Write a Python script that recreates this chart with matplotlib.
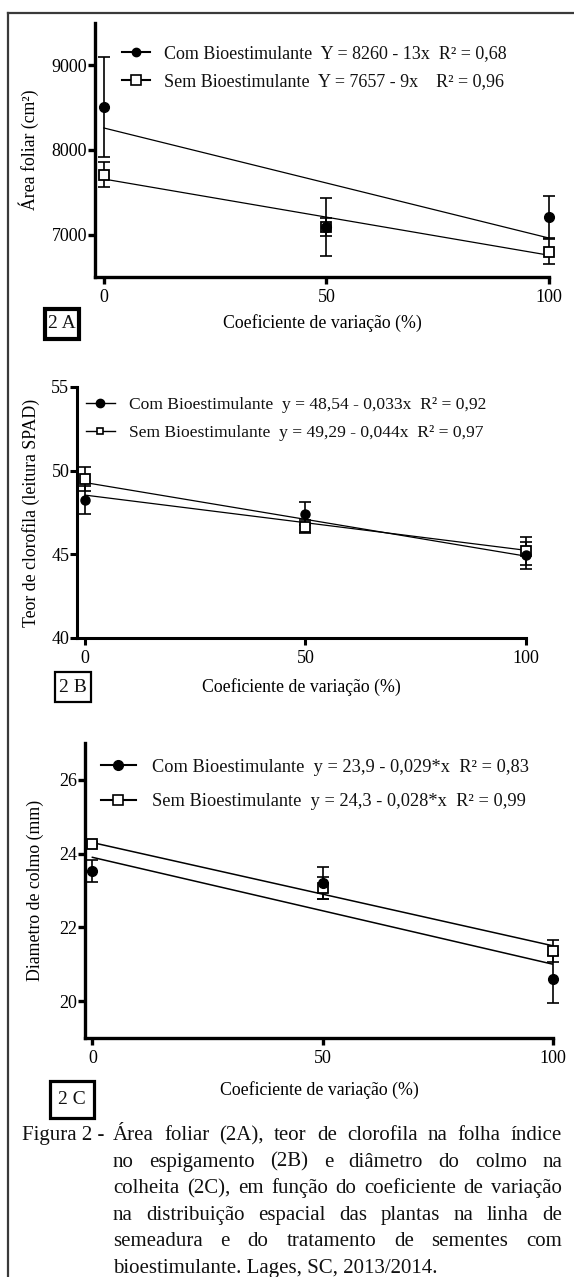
import matplotlib
matplotlib.use("Agg")
import matplotlib.pyplot as plt
import matplotlib.patches as patches
from matplotlib.lines import Line2D
import numpy as np

# ---- data ----
cv = [0, 50, 100]

# 2A - area foliar (cm2)
com_area = [8510, 7090, 7210]
com_area_err = [590, 345, 245]
sem_area = [7710, 7090, 6800]
sem_area_err = [150, 105, 150]
area_fit_com = (8260, -13)
area_fit_sem = (7657, -9)

# 2B - teor de clorofila (SPAD)
com_spad = [48.26, 47.44, 44.94]
com_spad_err = [0.82, 0.66, 0.80]
sem_spad = [49.50, 46.66, 45.20]
sem_spad_err = [0.74, 0.38, 0.84]
spad_fit_com = (48.54, -0.033)
spad_fit_sem = (49.29, -0.044)

# 2C - diametro de colmo (mm)
com_colmo = [23.52, 23.20, 20.60]
com_colmo_err = [0.30, 0.43, 0.66]
sem_colmo = [24.26, 23.06, 21.37]
sem_colmo_err = [0.06, 0.30, 0.30]
colmo_fit_com = (23.9, -0.029)
colmo_fit_sem = (24.3, -0.028)

legend_a = ["Com Bioestimulante  Y = 8260 - 13x  R\u00b2 = 0,68",
            "Sem Bioestimulante  Y = 7657 - 9x    R\u00b2 = 0,96"]
legend_b = ["Com Bioestimulante  y = 48,54 - 0,033x  R\u00b2 = 0,92",
            "Sem Bioestimulante  y = 49,29 - 0,044x  R\u00b2 = 0,97"]
legend_c = ["Com Bioestimulante  y = 23,9 - 0,029*x  R\u00b2 = 0,83",
            "Sem Bioestimulante  y = 24,3 - 0,028*x  R\u00b2 = 0,99"]

caption_head = "Figura 2 -"
caption_lines = [
    "\u00c1rea foliar (2A), teor de clorofila na folha \u00edndice",
    "no espigamento (2B) e di\u00e2metro do colmo na",
    "colheita (2C), em fun\u00e7\u00e3o do coeficiente de varia\u00e7\u00e3o",
    "na distribui\u00e7\u00e3o espacial das plantas na linha de",
    "semeadura e do tratamento de sementes com",
    "bioestimulante. Lages, SC, 2013/2014.",
]

W, H = 574, 1277
plt.rcParams["font.family"] = ["Liberation Serif", "DejaVu Serif"]
plt.rcParams["text.color"] = "#111111"

fig = plt.figure(figsize=(W / 100, H / 100), dpi=100)


def fx(x):
    return x / W


def fy(y):
    return 1 - y / H


def add_ax(left, right, top, bottom):
    return fig.add_axes([fx(left), fy(bottom), (right - left) / W, (bottom - top) / H])


def panel(ax, xlim, ylim, yticks, com, com_err, sem, sem_err, fit_com, fit_sem,
          ylabel, ylab_x, xlab_y, box, leg_labels, leg_pos, leg_style, sizes):
    ms_c, ms_s, fit_lw, spine_lw = sizes
    xs = np.array([0, 100])
    for b0, b1 in (fit_com, fit_sem):
        ax.plot(xs, b0 + b1 * xs, color="k", lw=fit_lw, zorder=2)
    ax.errorbar(cv, sem, yerr=sem_err, fmt="none", ecolor="k", elinewidth=1.2,
                capsize=4, capthick=1.2, zorder=3, clip_on=False)
    ax.errorbar(cv, com, yerr=com_err, fmt="none", ecolor="k", elinewidth=1.2,
                capsize=4, capthick=1.2, zorder=3, clip_on=False)
    ax.plot(cv, sem, "s", ms=ms_s, mfc="white", mec="k", mew=1.3, zorder=4, clip_on=False)
    ax.plot(cv, com, "o", ms=ms_c, color="k", zorder=5, clip_on=False)

    ax.set_xlim(*xlim)
    ax.set_ylim(*ylim)
    ax.set_xticks(cv)
    ax.set_yticks(yticks)
    for s in ("top", "right"):
        ax.spines[s].set_visible(False)
    for s in ("left", "bottom"):
        ax.spines[s].set_linewidth(spine_lw)
    ax.tick_params(axis="both", direction="out", length=5, width=spine_lw,
                   labelsize=13, colors="k")
    ax.tick_params(axis="y", pad=0.5)
    ax.tick_params(axis="x", pad=3.5)
    ax.patch.set_alpha(0)

    bb = ax.get_position()
    ax.set_ylabel(ylabel, fontsize=12.8, va="center")
    ax.yaxis.set_label_coords((fx(ylab_x) - bb.x0) / bb.width, 0.5)
    ax.set_xlabel("Coeficiente de varia\u00e7\u00e3o (%)", fontsize=12.8, va="center")
    ax.xaxis.set_label_coords(0.5, (fy(xlab_y) - bb.y0) / bb.height)

    hl, hpad, lspace, hms_c, hms_s, hlw, leg_fs = leg_style
    h_com = Line2D([], [], color="k", marker="o", ms=hms_c, lw=hlw)
    h_sem = Line2D([], [], color="k", marker="s", ms=hms_s, mfc="white", mec="k", mew=1.2, lw=hlw)
    ax.legend([h_com, h_sem], leg_labels, loc="center left",
              bbox_to_anchor=(fx(leg_pos[0]), fy(leg_pos[1])), bbox_transform=fig.transFigure,
              frameon=False, borderpad=0, borderaxespad=0, numpoints=1,
              handlelength=hl, handletextpad=hpad, labelspacing=lspace, fontsize=leg_fs)

    x0, y0, x1, y1, lw, txt = box
    fig.add_artist(patches.Rectangle((fx(x0), fy(y1)), (x1 - x0) / W, (y1 - y0) / H,
                                     transform=fig.transFigure, fill=False, ec="k", lw=lw))
    fig.text(fx((x0 + x1) / 2), fy((y0 + y1) / 2), txt, ha="center", va="center", fontsize=14)


ax_a = add_ax(95, 549, 23, 277)
panel(ax_a, (-2, 100), (6500, 9500), [7000, 8000, 9000],
      com_area, com_area_err, sem_area, sem_area_err, area_fit_com, area_fit_sem,
      "\u00c1rea foliar (cm\u00b2)", 29, 323, (44.5, 309, 79, 338.5, 3.0, "2 A"),
      legend_a, (122, 68), (1.55, 0.8, 0.6, 6, 6.5, 1.5, 13.0), (7, 7.5, 0.9, 2.4))

ax_b = add_ax(77, 526, 387, 638)
panel(ax_b, (-1.8, 100), (40, 55), [40, 45, 50, 55],
      com_spad, com_spad_err, sem_spad, sem_spad_err, spad_fit_com, spad_fit_sem,
      "Teor de clorofila (leitura SPAD)", 31, 687, (55, 672, 91, 702, 1.6, "2 B"),
      legend_b, (86, 419), (1.65, 0.8, 0.65, 6, 5, 1.0, 12.6), (6.5, 6.5, 0.9, 2.2))

ax_c = add_ax(85, 553, 743, 1038)
panel(ax_c, (-1.6, 100), (19, 27), [20, 22, 24, 26],
      com_colmo, com_colmo_err, sem_colmo, sem_colmo_err, colmo_fit_com, colmo_fit_sem,
      "Diametro de colmo (mm)", 35, 1090, (50, 1081, 94, 1118, 2.3, "2 C"),
      legend_c, (101, 784.5), (1.9, 0.9, 0.95, 7, 7, 1.5, 13.2), (7, 7, 1.1, 2.4))

# page frame
fig.add_artist(Line2D([fx(8), fx(8)], [fy(13), fy(H + 5)], color="#3a3a3a", lw=1.6))
fig.add_artist(Line2D([fx(8), fx(W + 5)], [fy(13), fy(13)], color="#3a3a3a", lw=1.6))

# caption, justified like the source
fig.canvas.draw()
renderer = fig.canvas.get_renderer()
cap_fs = 15
left_x, right_x = 113, 562
base_y = 1140
step = 26.6
fig.text(fx(22), fy(base_y), caption_head, fontsize=cap_fs, va="baseline", ha="left")
for i, line in enumerate(caption_lines):
    words = line.split(" ")
    y = fy(base_y + i * step)
    if i == len(caption_lines) - 1:
        fig.text(fx(left_x), y, line, fontsize=cap_fs, va="baseline", ha="left")
        continue
    widths = []
    for w in words:
        t = fig.text(0, 0, w, fontsize=cap_fs)
        widths.append(t.get_window_extent(renderer).width)
        t.remove()
    gap = (right_x - left_x - sum(widths)) / (len(words) - 1)
    x = left_x
    for w, wd in zip(words, widths):
        fig.text(fx(x), y, w, fontsize=cap_fs, va="baseline", ha="left")
        x += wd + gap

fig.savefig("out.png", dpi=100)
